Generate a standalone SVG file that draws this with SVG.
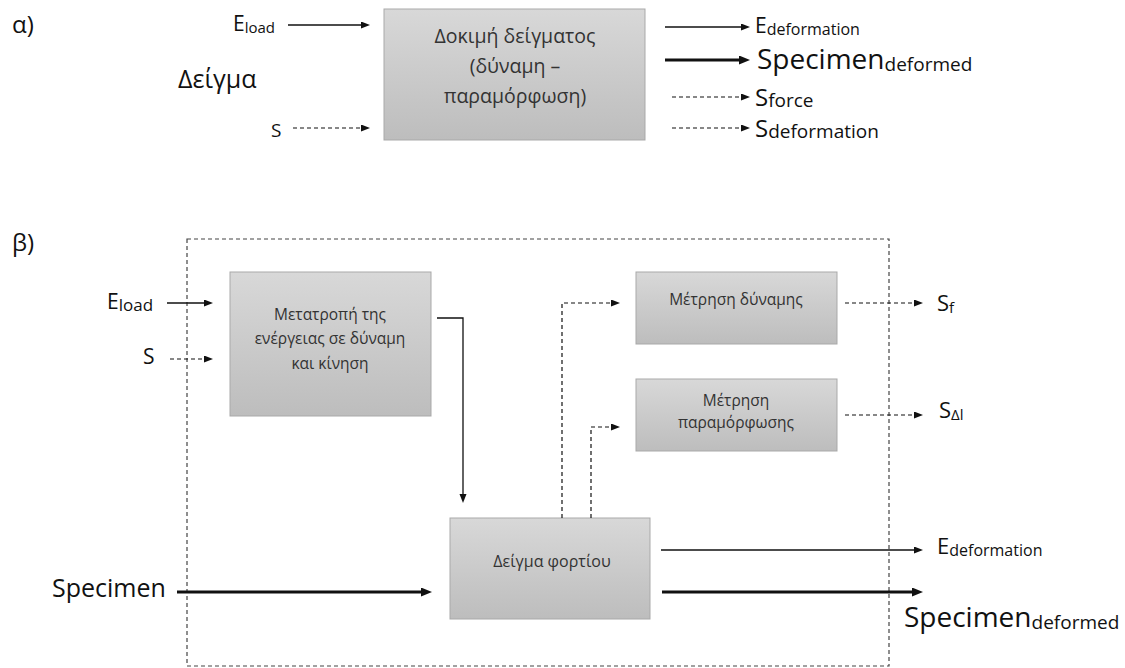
<svg xmlns="http://www.w3.org/2000/svg" width="1125" height="668" viewBox="0 0 1125 668">
  <defs>
    <linearGradient id="boxFill" x1="0" y1="0" x2="0" y2="1">
      <stop offset="0" stop-color="#d8d8d8"/>
      <stop offset="1" stop-color="#bdbdbd"/>
    </linearGradient>
    <marker id="head" markerUnits="userSpaceOnUse" markerWidth="10" markerHeight="8" refX="0" refY="3.5" orient="auto">
      <path d="M0,0 L9,3.5 L0,7 z" fill="#111"/>
    </marker>
    <marker id="headBold" markerUnits="userSpaceOnUse" markerWidth="12" markerHeight="10" refX="0" refY="4.5" orient="auto">
      <path d="M0,0 L11,4.5 L0,9 z" fill="#111"/>
    </marker>
    <style>
      text { font-family: "Open Sans", "Noto Sans", "DejaVu Sans", sans-serif; fill: #111; }
      .box { fill: url(#boxFill); stroke: #a9a9a9; stroke-width: 1; }
      .boxText { fill: #333; text-anchor: middle; }
      .thin { stroke: #111; stroke-width: 1.3; fill: none; marker-end: url(#head); }
      .bold { stroke: #111; stroke-width: 3; fill: none; marker-end: url(#headBold); }
      .dash { stroke: #111; stroke-width: 1.2; fill: none; stroke-dasharray: 4 3; marker-end: url(#head); }
      .frame { stroke: #444; stroke-width: 1.2; fill: none; stroke-dasharray: 4 3; }
    </style>
  </defs>
  <rect width="1125" height="668" fill="#ffffff"/>

  <!-- Panel α: single test block -->
  <text x="12" y="33" font-size="24">α)</text>
  <text x="178" y="88" font-size="25">Δείγμα</text>

  <g id="alpha-test">
    <rect class="box" x="384" y="9" width="261" height="131"/>
    <text class="boxText" font-size="19.5"><tspan x="515" y="43">Δοκιμή δείγματος</tspan><tspan x="515" y="73">(δύναμη –</tspan><tspan x="515" y="103">παραμόρφωση)</tspan></text>
  </g>

  <g id="alpha-labels">
    <text x="233" y="31" font-size="21">E<tspan font-size="15" dy="2">load</tspan></text>
    <text x="271" y="137" font-size="19">S</text>
    <text x="755" y="33" font-size="21">E<tspan font-size="16" dy="2">deformation</tspan></text>
    <text x="757" y="69" font-size="28">Specimen<tspan font-size="19" dy="2">deformed</tspan></text>
    <text x="755" y="106" font-size="24">S<tspan font-size="19" dy="1">force</tspan></text>
    <text x="755" y="137" font-size="24">S<tspan font-size="19" dy="1">deformation</tspan></text>
  </g>

  <g id="alpha-connectors">
    <line class="thin" x1="288" y1="25" x2="361" y2="25"/>
    <line class="dash" x1="293" y1="128" x2="361" y2="128"/>
    <line class="thin" x1="665" y1="27" x2="741" y2="27"/>
    <line class="bold" x1="665" y1="60" x2="739" y2="60"/>
    <line class="dash" x1="672" y1="97" x2="741" y2="97"/>
    <line class="dash" x1="672" y1="128" x2="741" y2="128"/>
  </g>

  <!-- Panel β: internal structure -->
  <text x="12" y="251" font-size="24">β)</text>
  <rect id="system-boundary" class="frame" x="187" y="239" width="702" height="427"/>

  <g id="convert">
    <rect class="box" x="230" y="272" width="201" height="144"/>
    <text class="boxText" font-size="15.5"><tspan x="330" y="320">Μετατροπή της</tspan><tspan x="330" y="344">ενέργειας σε δύναμη</tspan><tspan x="330" y="369">και κίνηση</tspan></text>
  </g>

  <g id="force-measure">
    <rect class="box" x="636" y="272" width="201" height="72"/>
    <text class="boxText" font-size="15.5" x="736" y="305">Μέτρηση δύναμης</text>
  </g>

  <g id="deformation-measure">
    <rect class="box" x="636" y="379" width="201" height="72"/>
    <text class="boxText" font-size="15.5"><tspan x="736" y="406">Μέτρηση</tspan><tspan x="736" y="428">παραμόρφωσης</tspan></text>
  </g>

  <g id="loaded-specimen">
    <rect class="box" x="450" y="518" width="200" height="101"/>
    <text class="boxText" font-size="16" x="552" y="567">Δείγμα φορτίου</text>
  </g>

  <g id="beta-labels">
    <text x="107" y="309" font-size="21">E<tspan font-size="17" dy="2">load</tspan></text>
    <text x="143" y="364" font-size="21">S</text>
    <text x="52" y="597" font-size="25">Specimen</text>
    <text x="937" y="311" font-size="22">S<tspan font-size="15" dy="2">f</tspan></text>
    <text x="939" y="418" font-size="22">S<tspan font-size="15" dy="2">Δl</tspan></text>
    <text x="937" y="554" font-size="22">E<tspan font-size="16" dy="2">deformation</tspan></text>
    <text x="904" y="627" font-size="28">Specimen<tspan font-size="19" dy="2">deformed</tspan></text>
  </g>

  <g id="beta-connectors">
    <line class="thin" x1="167" y1="303" x2="204" y2="303"/>
    <line class="dash" x1="170" y1="359" x2="204" y2="359"/>
    <path class="thin" d="M437,318 H463 V494"/>
    <line class="bold" x1="177" y1="592" x2="421" y2="592"/>
    <path class="dash" d="M562,518 V303 H611"/>
    <path class="dash" d="M591,518 V427 H611"/>
    <line class="dash" x1="845" y1="303" x2="914" y2="303"/>
    <line class="dash" x1="845" y1="415" x2="914" y2="415"/>
    <line class="thin" x1="661" y1="550" x2="914" y2="550"/>
    <line class="bold" x1="662" y1="592" x2="912" y2="592"/>
  </g>
</svg>
